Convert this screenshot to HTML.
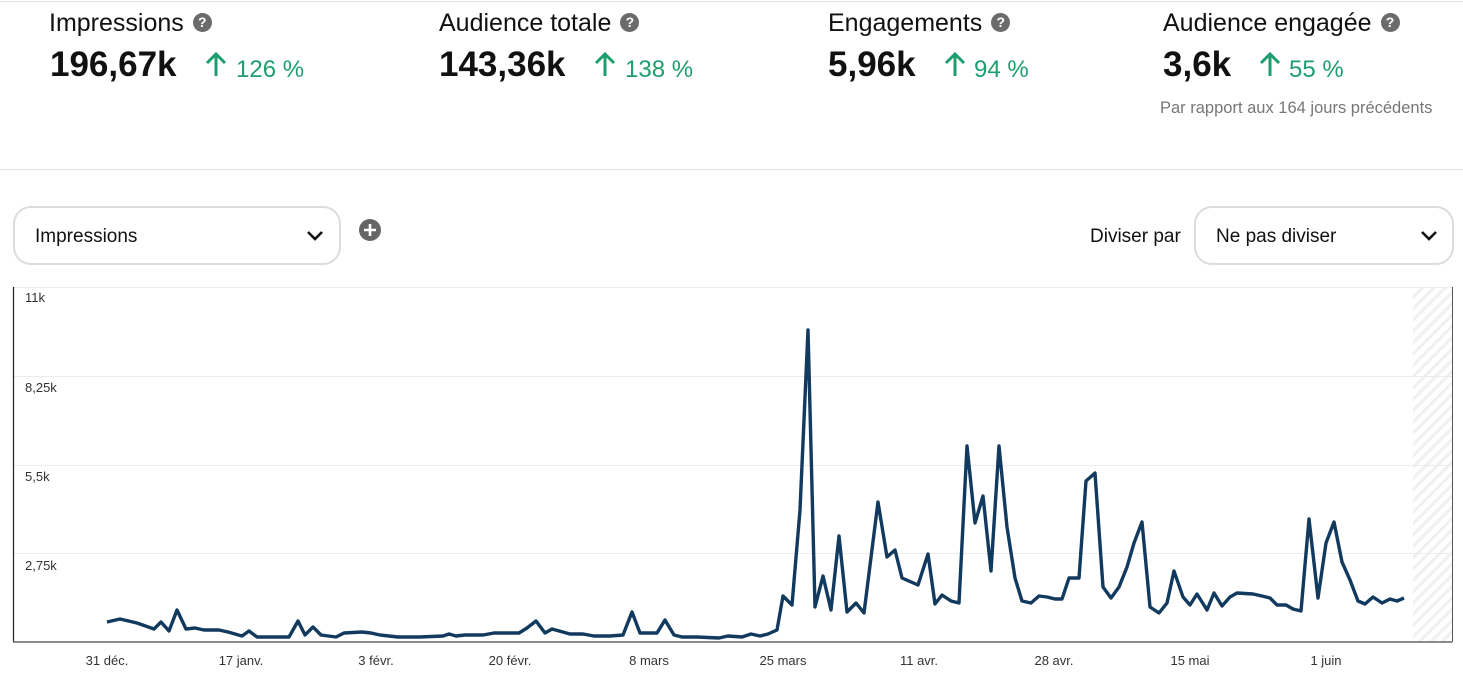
<!DOCTYPE html>
<html><head><meta charset="utf-8"><style>
body{margin:0;width:1463px;height:674px;background:#fff;font-family:"Liberation Sans",sans-serif;position:relative;overflow:hidden;color:#111}
.a{position:absolute;white-space:nowrap}
.t{font-size:25px;color:#111}
.v{font-size:35px;font-weight:bold;color:#111}
.p{font-size:24px;color:#1e9e6e}
.q{display:inline-block;width:19px;height:19px;border-radius:50%;background:#6b6b6b;color:#fff;font-size:14px;font-weight:bold;text-align:center;line-height:19px;vertical-align:4px;margin-left:9px}
.box{position:absolute;border:2px solid #dcdcdc;border-radius:18px;background:#fff}
</style></head><body>
<div class="a" style="left:0;top:1px;width:1463px;height:1px;background:#e4e4e4"></div>
<div class="a t" style="left:49px;top:9px">Impressions<span class="q">?</span></div>
<div class="a t" style="left:439px;top:9px">Audience totale<span class="q">?</span></div>
<div class="a t" style="left:828px;top:9px">Engagements<span class="q">?</span></div>
<div class="a t" style="left:1163px;top:9px">Audience engagée<span class="q">?</span></div>
<div class="a v" style="left:50px;top:45px">196,67k</div>
<div class="a v" style="left:439px;top:45px">143,36k</div>
<div class="a v" style="left:828px;top:45px">5,96k</div>
<div class="a v" style="left:1163px;top:45px">3,6k</div>
<svg class="a" style="left:0;top:0" width="1463" height="100">
<g stroke="#1e9e6e" stroke-width="3" fill="none"><path d="M216 76V54M207 63l9-9 9 9"/><path d="M605 76V54M596 63l9-9 9 9"/><path d="M955 76V54M946 63l9-9 9 9"/><path d="M1270 76V54M1261 63l9-9 9 9"/></g></svg>
<div class="a p" style="left:236px;top:56px">126 %</div>
<div class="a p" style="left:625px;top:56px">138 %</div>
<div class="a p" style="left:974px;top:56px">94 %</div>
<div class="a p" style="left:1289px;top:56px">55 %</div>
<div class="a" style="left:1160px;top:99px;font-size:16.5px;color:#777">Par rapport aux 164 jours précédents</div>
<div class="a" style="left:0;top:169px;width:1463px;height:1px;background:#dedede"></div>
<div class="box" style="left:13px;top:206px;width:324px;height:55px"></div>
<div class="a" style="left:35px;top:226px;font-size:19px">Impressions</div>
<div class="a" style="left:1090px;top:226px;font-size:19px">Diviser par</div>
<div class="box" style="left:1194px;top:206px;width:256px;height:55px"></div>
<div class="a" style="left:1216px;top:226px;font-size:19px">Ne pas diviser</div>
<svg class="a" style="left:0;top:0" width="1463" height="280"><path d="M308 232l7 7 7-7M1422 232l7 7 7-7" stroke="#111" stroke-width="2.6" fill="none"/>
<circle cx="370" cy="230" r="11" fill="#666"/><path d="M370 224v12M364 230h12" stroke="#fff" stroke-width="2.6"/></svg>
<svg class="a" style="left:0;top:0" width="1463" height="674">
<defs><pattern id="h" width="8" height="8" patternUnits="userSpaceOnUse" patternTransform="rotate(45)"><rect width="3" height="8" fill="#f0f0f0"/></pattern></defs>
<rect x="1413" y="287" width="39" height="355" fill="url(#h)"/>
<g stroke="#ececec" stroke-width="1"><path d="M13 287.5H1452M13 376.5H1452M13 465.5H1452M13 553.5H1452"/></g>
<path d="M13.5 287V642" stroke="#222" stroke-width="1.2"/>
<path d="M1452.5 287V642" stroke="#555" stroke-width="1"/>
<path d="M13 642H1452" stroke="#666" stroke-width="1.5"/>
<g font-size="13" fill="#333" font-family="Liberation Sans,sans-serif"><text x="25" y="302">11k</text><text x="25" y="392">8,25k</text><text x="25" y="481">5,5k</text><text x="25" y="570">2,75k</text></g>
<g font-size="13" fill="#333" text-anchor="middle" font-family="Liberation Sans,sans-serif"><text x="107" y="665">31 déc.</text><text x="241" y="665">17 janv.</text><text x="376" y="665">3 févr.</text><text x="510" y="665">20 févr.</text><text x="649" y="665">8 mars</text><text x="783" y="665">25 mars</text><text x="919" y="665">11 avr.</text><text x="1054" y="665">28 avr.</text><text x="1190" y="665">15 mai</text><text x="1326" y="665">1 juin</text></g>
<polyline fill="none" stroke="#123a5e" stroke-width="3.4" stroke-linejoin="round" points="107,622 120,619 137,623 154,629 161,622 169,631 177,610 186,629 195,628 204,630 219,630 228,632 242,636 249,631 257,637 273,637 289,637 298,621 305,635 313,627 321,635 336,637 344,633 362,632 371,633 380,635 398,637 420,637 443,636 449,634 456,636 465,635 483,635 494,633 505,633 519,633 527,628 536,621 545,633 552,629 570,634 583,634 594,636 610,636 623,635 632,612 640,633 657,633 665,620 674,635 682,637 697,637 719,638 728,636 742,637 751,634 760,636 768,634 777,630 783,596 792,605 800,510 808,330 815,607 823,576 831,610 839,536 847,612 856,603 864,613 878,502 887,557 895,550 902,578 918,585 928,554 935,604 942,595 951,601 959,603 967,446 975,523 983,496 991,571 999,446 1007,527 1015,578 1022,601 1031,603 1039,596 1047,597 1055,599 1062,599 1069,578 1079,578 1086,481 1095,473 1103,587 1111,598 1119,587 1127,567 1134,543 1142,522 1150,607 1159,613 1167,603 1174,571 1183,597 1190,605 1197,594 1207,610 1214,593 1222,606 1230,597 1237,593 1253,594 1262,596 1270,598 1277,605 1286,605 1293,609 1301,611 1309,519 1318,598 1326,543 1334,522 1342,562 1350,580 1358,601 1365,604 1373,597 1382,603 1390,599 1397,601 1404,598"/>
</svg>
</body></html>
